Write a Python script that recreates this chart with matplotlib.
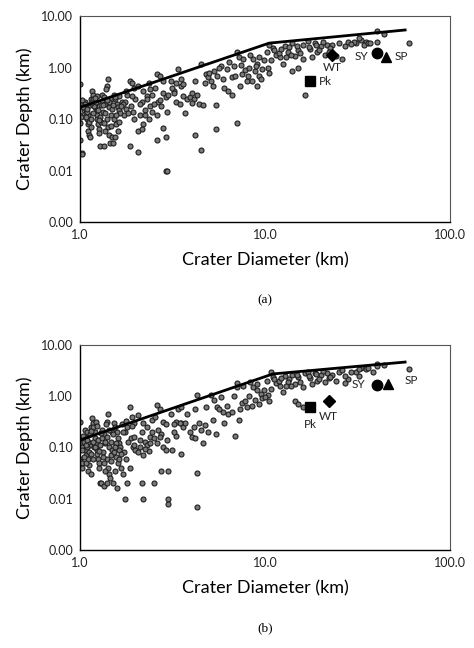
import matplotlib.pyplot as plt
from matplotlib.ticker import FixedLocator, FuncFormatter, NullLocator

plt.rcParams['font.family'] = ['Lato', 'DejaVu Sans']

# ---- panel (a) data: crater diameter (km) and depth (km) ----
diam_a = [1.0, 1.0, 1.0, 1.0, 1.02, 1.03, 1.01, 1.02,
          1.05, 1.06, 1.07, 1.08, 1.09, 1.1, 1.11, 1.12, 1.13, 1.14, 1.06, 1.08, 1.1, 1.12, 1.14, 1.09, 1.13,
          1.16, 1.17, 1.18, 1.2, 1.21, 1.22, 1.23, 1.24, 1.25, 1.26, 1.27, 1.28, 1.19, 1.22, 1.25, 1.28, 1.29,
          1.42, 1.4, 1.38, 1.32, 1.35, 1.31, 1.37, 1.44, 1.33, 1.46, 1.39, 1.34, 1.41, 1.36, 1.43, 1.45, 1.35, 1.48, 1.47, 1.49,
          1.52, 1.55, 1.58, 1.6, 1.62, 1.65, 1.53, 1.57, 1.61, 1.55, 1.5, 1.68, 1.63,
          1.85, 1.9, 1.95, 1.8, 1.75, 1.88, 1.92, 1.72, 1.85, 1.98, 1.78,
          2.05, 2.2, 2.3, 2.15, 2.4, 2.25, 2.1, 2.35, 2.2, 2.05, 2.05, 2.45, 2.3, 2.45, 2.15,
          2.6, 2.7, 2.55, 2.8, 2.9, 2.65, 2.75, 2.95, 2.6, 2.8, 2.9, 2.6, 2.9, 2.95, 3.0, 2.5,
          3.4, 3.1, 3.3, 3.5, 3.2, 3.6, 3.8, 3.9, 3.7, 3.5, 3.15, 3.3,
          4.5, 4.2, 4.3, 4.1, 4.4, 4.0, 4.6, 4.2, 4.5, 4.8, 4.7, 4.9,
          5.8, 5.3, 5.5, 5.9, 5.2, 6.0, 6.3, 5.4, 5.4, 6.2, 5.1,
          7.0, 7.2, 6.8, 7.5, 6.6, 7.3, 6.6, 7.0, 7.8, 8.0, 7.6,
          8.3, 8.6, 9.0, 8.2, 8.8, 9.3, 9.5, 8.5, 9.0, 9.8, 9.6,
          10.5, 11.0, 10.2, 11.5, 12.0, 10.8, 12.5, 10.3, 10.5, 12.8, 11.8,
          14.0, 13.5, 15.0, 13.2, 14.5, 16.0, 14.0, 15.0, 16.5, 16.0, 13.8,
          17.0, 18.5, 20.0, 17.5, 19.0, 21.0, 18.0, 21.5,
          25.0, 23.0, 22.5, 22.0, 26.0, 28.0,
          33.0, 35.0, 31.0, 34.0, 36.0, 30.0,
          40.0, 40.0, 44.0, 60.0,
          1.04, 1.07, 1.15, 1.18, 1.24, 1.3, 1.36, 1.44, 1.5, 1.56, 1.62, 1.7, 1.76, 1.82, 1.9, 1.96,
          11.2, 12.2, 13.0, 14.8, 15.5, 17.2, 18.8, 19.5, 20.5, 24.0, 27.0, 29.0, 32.0, 37.0,
          5.0, 5.6, 6.4, 6.9, 7.4, 8.1, 8.9, 9.2, 3.6, 4.0, 2.8, 2.35,
          1.03, 1.09, 1.14, 1.2, 1.26, 1.33, 1.39, 1.46, 1.54, 1.66, 2.1, 2.25, 2.4, 2.7, 3.2, 3.45]
depth_a = [0.48, 0.12, 0.085, 0.04, 0.022, 0.021, 0.11, 0.2,
           0.15, 0.22, 0.18, 0.13, 0.1, 0.08, 0.06, 0.05, 0.045, 0.25, 0.2, 0.16, 0.12, 0.09, 0.07, 0.14, 0.19,
           0.35, 0.3, 0.25, 0.2, 0.17, 0.14, 0.12, 0.1, 0.08, 0.065, 0.055, 0.03, 0.18, 0.22, 0.15, 0.11, 0.09,
           0.6, 0.45, 0.38, 0.3, 0.27, 0.23, 0.2, 0.17, 0.14, 0.12, 0.1, 0.085, 0.07, 0.06, 0.05, 0.035, 0.03, 0.045, 0.25, 0.16,
           0.3, 0.25, 0.2, 0.17, 0.15, 0.13, 0.1, 0.08, 0.06, 0.045, 0.035, 0.22, 0.28,
           0.55, 0.5, 0.4, 0.3, 0.22, 0.18, 0.14, 0.12, 0.03, 0.25, 0.16,
           0.45, 0.35, 0.28, 0.22, 0.18, 0.15, 0.12, 0.1, 0.08, 0.06, 0.023, 0.3, 0.25, 0.14, 0.065,
           0.75, 0.7, 0.4, 0.32, 0.27, 0.22, 0.18, 0.14, 0.12, 0.067, 0.045, 0.04, 0.01, 0.01, 0.3, 0.2,
           0.95, 0.55, 0.5, 0.45, 0.35, 0.28, 0.25, 0.27, 0.13, 0.6, 0.4, 0.22,
           1.2, 0.55, 0.3, 0.25, 0.2, 0.21, 0.19, 0.05, 0.025, 0.75, 0.5, 0.65,
           1.1, 0.85, 0.7, 0.6, 0.45, 0.4, 0.35, 0.19, 0.065, 0.95, 0.55,
           2.0, 1.6, 1.1, 0.75, 0.65, 0.45, 0.3, 0.085, 0.9, 0.55, 1.5,
           1.8, 1.5, 1.2, 1.0, 0.85, 0.7, 0.6, 0.55, 0.45, 1.4, 0.95,
           2.8, 2.4, 2.0, 1.8, 1.6, 1.4, 1.2, 1.0, 0.8, 2.6, 1.9,
           3.0, 2.5, 2.2, 2.0, 1.7, 1.5, 0.85, 1.0, 0.29, 2.8, 1.8,
           3.3, 3.0, 2.6, 2.3, 2.0, 1.8, 1.6, 2.8,
           3.0, 2.7, 2.4, 2.0, 1.5, 3.1,
           3.5, 3.2, 3.0, 2.8, 3.0, 3.1,
           5.1, 3.1, 4.6, 3.0,
           0.17, 0.11, 0.21, 0.13, 0.28, 0.19, 0.13, 0.22, 0.19, 0.12, 0.09, 0.2, 0.35, 0.13, 0.28, 0.1,
           2.2, 2.3, 1.6, 2.6, 1.9, 2.5, 2.7, 2.2, 3.2, 1.7, 2.6, 2.9, 3.7, 3.0,
           0.8, 1.0, 1.3, 0.7, 1.15, 0.7, 1.1, 1.6, 0.48, 0.32, 0.55, 0.5,
           0.24, 0.16, 0.1, 0.26, 0.095, 0.19, 0.24, 0.075, 0.27, 0.18, 0.2, 0.12, 0.38, 0.24, 0.32, 0.2]
line_diam_a = [1.0, 10.5, 57.0]
line_depth_a = [0.17, 3.0, 5.4]

# ---- panel (b) data ----
diam_b = [1.0, 1.0, 1.0, 1.0, 1.01, 1.02, 1.03, 1.02,
          1.05, 1.06, 1.07, 1.08, 1.09, 1.1, 1.11, 1.12, 1.13, 1.14, 1.06, 1.08, 1.1, 1.12, 1.14, 1.09, 1.13, 1.05,
          1.16, 1.17, 1.18, 1.2, 1.21, 1.22, 1.23, 1.24, 1.25, 1.26, 1.27, 1.28, 1.19, 1.22, 1.25, 1.28, 1.29, 1.18,
          1.42, 1.4, 1.38, 1.32, 1.35, 1.31, 1.37, 1.44, 1.33, 1.46, 1.39, 1.34, 1.41, 1.36, 1.43, 1.45, 1.35, 1.48, 1.47, 1.49, 1.4,
          1.52, 1.55, 1.58, 1.6, 1.62, 1.65, 1.53, 1.57, 1.61, 1.55, 1.5, 1.68, 1.63, 1.66, 1.75, 1.58,
          1.85, 1.9, 1.95, 1.8, 1.75, 1.88, 1.92, 1.72, 1.85, 1.98, 1.78, 1.7, 1.8, 1.95,
          2.05, 2.2, 2.3, 2.15, 2.4, 2.25, 2.1, 2.35, 2.2, 2.05, 2.2, 2.45, 2.3, 2.45, 2.15, 2.5,
          2.6, 2.7, 2.55, 2.8, 2.9, 2.65, 2.75, 2.95, 2.6, 2.8, 2.9, 2.75, 3.0, 3.0, 3.0, 2.5,
          3.4, 3.1, 3.3, 3.5, 3.2, 3.6, 3.8, 3.9, 3.7, 3.5, 3.15, 3.3, 3.5,
          4.3, 4.2, 4.4, 4.1, 4.5, 4.0, 4.6, 4.3, 4.3, 4.8, 4.7, 4.9, 4.2,
          5.8, 5.3, 5.5, 5.9, 5.2, 6.0, 6.3, 5.4, 5.6, 6.2, 5.1,
          7.0, 7.0, 6.8, 7.5, 6.6, 7.3, 6.9, 7.2, 7.8, 8.0, 7.6,
          8.3, 8.6, 9.0, 8.2, 8.8, 9.3, 9.5, 8.5, 9.0, 9.8, 9.6,
          10.8, 11.0, 10.2, 11.5, 12.0, 10.8, 12.5, 10.3, 10.5, 12.8, 11.8, 10.0,
          14.0, 13.5, 15.0, 13.2, 14.5, 16.0, 14.5, 15.0, 16.0, 16.5, 13.8,
          17.0, 18.5, 20.0, 17.5, 19.0, 21.0, 18.0, 21.5, 22.0, 20.5,
          25.0, 23.0, 22.5, 28.0, 27.0, 26.0, 27.0,
          33.0, 35.0, 31.0, 32.0, 36.0, 38.0,
          40.0, 40.0, 44.0, 60.0,
          1.04, 1.07, 1.15, 1.18, 1.24, 1.3, 1.36, 1.44, 1.5, 1.56, 1.62, 1.7, 1.76, 1.82, 1.9, 1.96,
          11.2, 12.2, 13.0, 14.8, 15.5, 17.2, 18.8, 19.5, 24.0, 29.0, 32.0,
          1.03, 1.09, 1.14, 1.2, 1.26, 1.33, 1.39, 1.46, 1.54, 1.66, 2.1, 2.25, 2.4, 2.7, 3.2, 3.45]
depth_b = [0.32, 0.06, 0.055, 0.15, 0.12, 0.1, 0.05, 0.04,
           0.13, 0.22, 0.09, 0.07, 0.2, 0.06, 0.035, 0.045, 0.11, 0.25, 0.16, 0.05, 0.13, 0.08, 0.03, 0.1, 0.18, 0.065,
           0.38, 0.3, 0.25, 0.2, 0.15, 0.12, 0.09, 0.075, 0.06, 0.05, 0.04, 0.02, 0.1, 0.32, 0.14, 0.11, 0.02, 0.06,
           0.45, 0.32, 0.28, 0.22, 0.18, 0.15, 0.12, 0.1, 0.08, 0.07, 0.06, 0.05, 0.04, 0.035, 0.03, 0.025, 0.018, 0.2, 0.13, 0.09, 0.02,
           0.3, 0.25, 0.2, 0.15, 0.12, 0.1, 0.08, 0.065, 0.05, 0.035, 0.02, 0.28, 0.06, 0.04, 0.01, 0.016,
           0.6, 0.4, 0.3, 0.25, 0.2, 0.15, 0.1, 0.08, 0.04, 0.09, 0.06, 0.03, 0.02, 0.16,
           0.42, 0.3, 0.25, 0.2, 0.16, 0.13, 0.1, 0.085, 0.07, 0.08, 0.01, 0.34, 0.11, 0.2, 0.02, 0.02,
           0.68, 0.55, 0.4, 0.32, 0.28, 0.22, 0.18, 0.14, 0.12, 0.1, 0.09, 0.035, 0.01, 0.008, 0.035, 0.15,
           0.55, 0.45, 0.32, 0.3, 0.28, 0.25, 0.45, 0.2, 0.3, 0.075, 0.09, 0.17, 0.6,
           1.05, 0.55, 0.3, 0.25, 0.22, 0.16, 0.12, 0.032, 0.007, 0.6, 0.27, 0.2, 0.15,
           0.95, 0.85, 0.6, 0.5, 0.35, 0.3, 0.45, 0.18, 0.55, 0.65, 1.05,
           1.8, 1.5, 1.0, 0.75, 0.5, 0.55, 0.17, 0.35, 0.8, 0.6, 1.6,
           1.9, 1.5, 1.3, 1.0, 0.85, 0.7, 1.1, 0.65, 1.7, 1.3, 0.9,
           2.9, 2.4, 2.0, 1.8, 1.6, 1.4, 1.2, 1.05, 0.8, 2.5, 2.0, 0.95,
           2.6, 2.2, 2.4, 1.9, 1.7, 1.5, 0.8, 0.7, 0.6, 2.8, 1.6,
           3.0, 2.8, 2.6, 2.3, 2.0, 1.9, 1.7, 2.8, 2.3, 3.1,
           2.9, 2.6, 2.4, 2.2, 1.8, 3.2, 2.5,
           3.5, 3.3, 3.0, 2.5, 3.6, 3.0,
           4.3, 3.8, 4.1, 3.4,
           0.17, 0.11, 0.21, 0.13, 0.26, 0.19, 0.13, 0.22, 0.18, 0.12, 0.09, 0.2, 0.33, 0.13, 0.26, 0.11,
           2.2, 2.3, 1.6, 2.6, 1.9, 2.5, 2.7, 2.2, 2.0, 2.9, 3.4,
           0.09, 0.14, 0.075, 0.1, 0.085, 0.065, 0.16, 0.055, 0.1, 0.075, 0.14, 0.095, 0.12, 0.16, 0.2, 0.3]
line_diam_b = [1.0, 11.0, 57.0]
line_depth_b = [0.14, 2.7, 4.6]

# special craters
names = ['Pk', 'WT', 'SY', 'SP']
markers = ['s', 'D', 'o', '^']
spec_diam_a = [17.5, 23.0, 40.0, 45.0]
spec_depth_a = [0.55, 1.75, 1.9, 1.65]
spec_diam_b = [17.5, 22.0, 40.0, 46.0]
spec_depth_b = [0.6, 0.8, 1.65, 1.7]

# label offsets (points) per special crater
label_pos_a = [(6, 0, 'left', 'center'), (0, -5, 'center', 'top'),
               (-6, -2, 'right', 'center'), (6, 0, 'left', 'center')]
label_pos_b = [(0, -8, 'center', 'top'), (0, -7, 'center', 'top'),
               (-8, 0, 'right', 'center'), (12, 3, 'left', 'center')]


def draw_panel(ax, dx, dy, lx, ly, sx, sy, label_pos, tag):
    ax.scatter(dx, dy, s=13, color='#7a7a7a', edgecolors='#1e1e1e', linewidths=0.8, zorder=2)
    ax.plot(lx, ly, color='black', lw=2.0, zorder=3)
    for n, m, x, y, (ox, oy, ha, va) in zip(names, markers, sx, sy, label_pos):
        size = 6 if m == 'D' else 7.5
        ax.plot(x, y, marker=m, color='black', markersize=size, ls='none', zorder=4)
        ax.annotate(n, (x, y), xytext=(ox, oy), textcoords='offset points',
                    ha=ha, va=va, fontsize=8.5, color='#222222', zorder=5)
    ax.set_xscale('log')
    ax.set_yscale('log')
    ax.set_xlim(1, 100)
    ax.set_ylim(0.001, 10)
    ax.xaxis.set_major_locator(FixedLocator([1, 10, 100]))
    ax.yaxis.set_major_locator(FixedLocator([0.001, 0.01, 0.1, 1, 10]))
    ax.xaxis.set_minor_locator(NullLocator())
    ax.yaxis.set_minor_locator(NullLocator())
    ax.xaxis.set_major_formatter(FuncFormatter(lambda v, p: '%.1f' % v))
    ax.yaxis.set_major_formatter(FuncFormatter(lambda v, p: '%.2f' % v))
    ax.tick_params(length=0, labelsize=9, pad=5, colors='#222222')
    for s in ['top', 'right']:
        ax.spines[s].set_color('#555555')
        ax.spines[s].set_linewidth(0.8)
    for s in ['left', 'bottom']:
        ax.spines[s].set_color('black')
        ax.spines[s].set_linewidth(1.0)
    ax.set_xlabel('Crater Diameter (km)', fontsize=13, labelpad=8)
    ax.set_ylabel('Crater Depth (km)', fontsize=13, labelpad=6)
    ax.text(0.5, -0.38, tag, transform=ax.transAxes, ha='center', va='center',
            fontsize=9.5, family=['Liberation Serif', 'DejaVu Serif'])


fig = plt.figure(figsize=(4.74, 6.48), dpi=100)
ax_a = fig.add_axes([0.169, 0.657, 0.781, 0.318])
ax_b = fig.add_axes([0.169, 0.151, 0.781, 0.317])

draw_panel(ax_a, diam_a, depth_a, line_diam_a, line_depth_a,
           spec_diam_a, spec_depth_a, label_pos_a, '(a)')
draw_panel(ax_b, diam_b, depth_b, line_diam_b, line_depth_b,
           spec_diam_b, spec_depth_b, label_pos_b, '(b)')

fig.savefig('out.png', dpi=100)
